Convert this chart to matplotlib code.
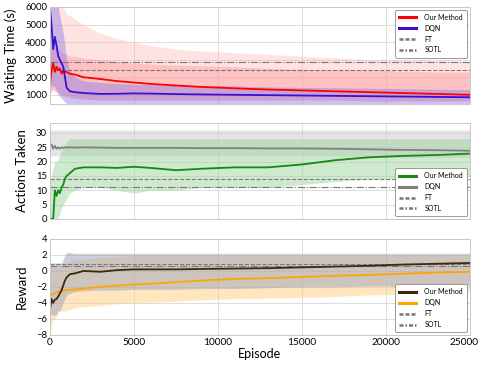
import matplotlib
matplotlib.use('Agg')
import matplotlib.pyplot as plt
import matplotlib.transforms as mtransforms
import numpy as np

plt.rcParams['font.family'] = ['Lato', 'DejaVu Sans']

# episode checkpoints
episodes = [0, 100, 200, 300, 400, 500, 600, 700, 800, 900, 1000, 1200, 1500, 2000,
            3000, 4000, 5000, 6000, 7500, 9000, 11000, 13000, 15000, 17000, 19000,
            21000, 23000, 25000]

# waiting time (s)
wait_ours = [1500, 2400, 2800, 2300, 2600, 2400, 2500, 2200, 2400, 2300, 2300, 2200, 2150, 2000,
             1900, 1780, 1700, 1620, 1530, 1450, 1370, 1300, 1250, 1200, 1150, 1100, 1050, 1000]
wait_ours_lo = [1000, 1200, 1300, 1200, 1200, 1100, 1100, 1000, 1000, 900, 900, 850, 800, 750,
                700, 700, 700, 700, 700, 700, 700, 700, 700, 700, 650, 650, 650, 650]
wait_ours_hi = [3500, 3800, 3800, 3700, 3600, 3600, 3500, 3400, 3400, 3300, 3300, 3200, 3200, 3100,
                3000, 2900, 2800, 2750, 2700, 2650, 2600, 2500, 2450, 2400, 2400, 2350, 2300, 2300]
wait_ours_spike = [6000, 6000, 6000, 6000, 6000, 6000, 6000, 6000, 6000, 5800, 5600, 5500, 5300, 5000,
                   4500, 4200, 4000, 3800, 3600, 3500, 3400, 3300, 3200, 3100, 3000, 3000, 2950, 2900]
wait_dqn = [6000, 5000, 3600, 4300, 3800, 3200, 3000, 2800, 2600, 2000, 1400, 1200, 1150, 1100,
            1050, 1060, 1080, 1070, 1040, 1020, 1000, 980, 960, 940, 920, 900, 880, 860]
wait_dqn_lo = [1500, 1500, 1500, 1500, 1200, 1000, 900, 800, 700, 600, 500, 500, 500, 500,
               500, 500, 500, 500, 500, 500, 500, 500, 500, 500, 500, 500, 500, 500]
wait_dqn_hi = [6000, 6000, 6000, 6000, 6000, 6000, 5500, 5000, 4500, 3800, 3000, 2400, 2000, 1800,
               1700, 1650, 1600, 1580, 1550, 1520, 1500, 1450, 1420, 1400, 1380, 1350, 1320, 1300]
wait_ft = 2410
wait_sotl = 2880

# actions taken
act_ours = [0, 0, 0, 10, 8, 10, 9, 11, 12, 14, 15, 16, 17.5, 18,
            18, 17.8, 18.2, 17.8, 17, 17.5, 18, 18, 19, 20.5, 21.5, 22, 22.3, 22.8]
act_ours_lo = [0, 0, 0, 0, 0, 0, 2, 4, 5, 6, 7, 9, 10, 11,
               11, 10, 9, 10, 10, 11, 11, 11, 12, 13, 14, 14, 15, 15]
act_ours_hi = [12, 15, 18, 20, 20, 21, 22, 24, 25, 26, 27, 28, 28, 28,
               28, 28, 28, 28, 28, 28, 28, 28, 28, 28, 28, 28, 28, 28]
act_dqn = [25, 26, 24.5, 25.5, 24.5, 25, 24.5, 25, 24.8, 25, 24.9, 25, 24.9, 25,
           24.9, 24.8, 24.8, 24.8, 24.8, 24.7, 24.7, 24.6, 24.6, 24.5, 24.3, 24.1, 24.0, 23.8]
act_dqn_lo = [22, 22, 22, 22, 22, 22, 22, 22, 22, 22, 22, 22, 22, 22,
              22, 22, 22, 22, 22, 22, 22, 22, 22, 22, 21.5, 21.5, 21.5, 21.5]
act_dqn_hi = [31, 31, 31, 31, 31, 31, 31, 31, 31, 31, 31, 31, 31, 31,
              31, 31, 31, 31, 31, 31, 31, 31, 31, 31, 31, 31, 31, 31]
act_ft = 14.0
act_sotl = 11.0

# reward
rew_ours = [-5, -3.5, -4, -3.6, -3.5, -3.2, -2.8, -2.4, -1.8, -1.2, -0.8, -0.4, -0.3, 0,
            -0.1, 0.1, 0.2, 0.2, 0.2, 0.25, 0.3, 0.35, 0.45, 0.55, 0.65, 0.8, 0.9, 1.0]
rew_ours_lo = [-5.5, -5.5, -5.5, -5.5, -5.5, -5, -5, -4.5, -4, -3.5, -3, -2.8, -2.6, -2.5,
               -2.4, -2.4, -2.3, -2.3, -2.3, -2.2, -2.2, -2.1, -2.0, -2.0, -1.9, -1.9, -1.8, -1.8]
rew_ours_hi = [1, 1, 1, 1, 1, 1, 1, 1, 1.5, 2, 2.3, 2.3, 2.2, 2.2,
               2.2, 2.2, 2.2, 2.2, 2.2, 2.2, 2.2, 2.2, 2.2, 2.2, 2.2, 2.2, 2.2, 2.2]
rew_dqn = [-2.5, -3, -2.9, -2.8, -2.7, -2.6, -2.6, -2.5, -2.5, -2.45, -2.4, -2.35, -2.3, -2.2,
           -2.0, -1.85, -1.7, -1.6, -1.4, -1.2, -1.0, -0.9, -0.75, -0.6, -0.5, -0.35, -0.2, -0.1]
rew_dqn_lo = [-8, -7, -6, -6, -5.5, -5, -5, -5, -5, -5, -5, -4.8, -4.6, -4.5,
              -4.3, -4.1, -4, -3.9, -3.8, -3.6, -3.5, -3.4, -3.3, -3.2, -3.0, -2.9, -2.7, -2.6]
rew_dqn_hi = [1, 0.8, 0.6, 0.5, 0.5, 0.5, 0.6, 0.8, 1, 1, 1, 1.2, 1.5, 1.5,
              1.7, 1.8, 2, 2, 2, 2, 2, 2, 2, 2, 2, 2, 2, 2]
rew_ft = 0.85
rew_sotl = 0.6

xticks = [0, 5000, 10000, 15000, 20000, 25000]

fig = plt.figure(figsize=(4.79, 3.66), dpi=100)
ax1 = fig.add_axes([0.104, 0.716, 0.877, 0.265])
ax2 = fig.add_axes([0.104, 0.402, 0.877, 0.262])
ax3 = fig.add_axes([0.104, 0.085, 0.877, 0.262])


def style_axis(ax, ylim, yticks, ylabel, show_x):
    ax.set_xlim(0, 25000)
    ax.set_ylim(*ylim)
    ax.set_yticks(yticks)
    ax.set_xticks(xticks)
    ax.grid(True, color='#dcdcdc', linewidth=0.7)
    ax.set_axisbelow(True)
    for s in ax.spines.values():
        s.set_color('#c8c8c8')
        s.set_linewidth(0.7)
    ax.tick_params(length=0, labelsize=6.8, pad=2)
    ax.tick_params(axis='x', labelsize=7.3)
    if not show_x:
        ax.set_xticklabels([])
    ax.set_ylabel(ylabel, fontsize=9.5, labelpad=6)


def add_legend(ax, c_ours, c_dqn, loc):
    h = [plt.Line2D([], [], color=c_ours, lw=2.2),
         plt.Line2D([], [], color=c_dqn, lw=2.2),
         plt.Line2D([], [], color='#777777', lw=1.8, ls=(0, (1.6, 0.8))),
         plt.Line2D([], [], color='#777777', lw=1.8, ls=(0, (1.6, 0.8, 0.6, 0.8)))]
    leg = ax.legend(h, ['Our Method', 'DQN', 'FT', 'SOTL'], loc=loc, fontsize=5,
                    fancybox=True, framealpha=1, edgecolor='#999999', handlelength=2.4,
                    borderpad=0.6, labelspacing=0.55, handletextpad=1.2,
                    borderaxespad=0.4)
    leg.get_frame().set_linewidth(0.7)


# waiting time
ax1.fill_between(episodes, wait_ours_lo, wait_ours_spike, color='#ffb0b0', alpha=0.35, lw=0)
ax1.fill_between(episodes, wait_ours_lo, wait_ours_hi, color='#ff9a9a', alpha=0.45, lw=0)
ax1.fill_between(episodes, wait_dqn_lo, wait_dqn_hi, color='#8c7ae8', alpha=0.45, lw=0)
ax1.axhline(wait_ft, color='#777777', lw=0.8, ls='--')
ax1.axhline(wait_sotl, color='#777777', lw=0.8, ls='-.')
ax1.plot(episodes, wait_ours, color='#ff0000', lw=1.3)
ax1.plot(episodes, wait_dqn, color='#3a10d0', lw=1.3)
style_axis(ax1, (480, 6000), [1000, 2000, 3000, 4000, 5000, 6000], 'Waiting Time (s)', False)
add_legend(ax1, '#ff0000', '#3a10d0', 'upper right')

# actions taken
ax2.fill_between(episodes, act_dqn_lo, act_dqn_hi, color='#cfcfcf', alpha=0.55, lw=0)
ax2.fill_between(episodes, act_ours_lo, act_ours_hi, color='#9fd49f', alpha=0.5, lw=0)
ax2.axhline(act_ft, color='#777777', lw=0.8, ls='--')
ax2.axhline(act_sotl, color='#777777', lw=0.8, ls='-.')
ax2.plot(episodes, act_dqn, color='#808080', lw=1.3)
ax2.plot(episodes, act_ours, color='#138a13', lw=1.3)
style_axis(ax2, (0, 33.5), [0, 5, 10, 15, 20, 25, 30], 'Actions Taken', False)
add_legend(ax2, '#138a13', '#808080', 'lower right')

# reward
ax3.fill_between(episodes, rew_dqn_lo, rew_dqn_hi, color='#ffcf80', alpha=0.5, lw=0)
ax3.fill_between(episodes, rew_ours_lo, rew_ours_hi, color='#9aa3bd', alpha=0.5, lw=0)
ax3.axhline(rew_ft, color='#777777', lw=0.8, ls='--')
ax3.axhline(rew_sotl, color='#777777', lw=0.8, ls='-.')
ax3.plot(episodes, rew_dqn, color='#ffa500', lw=1.3)
ax3.plot(episodes, rew_ours, color='#3b2a0a', lw=1.3)
style_axis(ax3, (-8, 4), [-8, -6, -4, -2, 0, 2, 4], 'Reward', True)
ax3.set_xlabel('Episode', fontsize=9, labelpad=1)
add_legend(ax3, '#3b2a0a', '#ffa500', 'lower right')

# last x label sits against the right edge, nudge it in
last = ax3.get_xticklabels()[-1]
last.set_transform(last.get_transform() + mtransforms.ScaledTranslation(-0.06, 0, fig.dpi_scale_trans))

fig.savefig('out.png', dpi=100)
